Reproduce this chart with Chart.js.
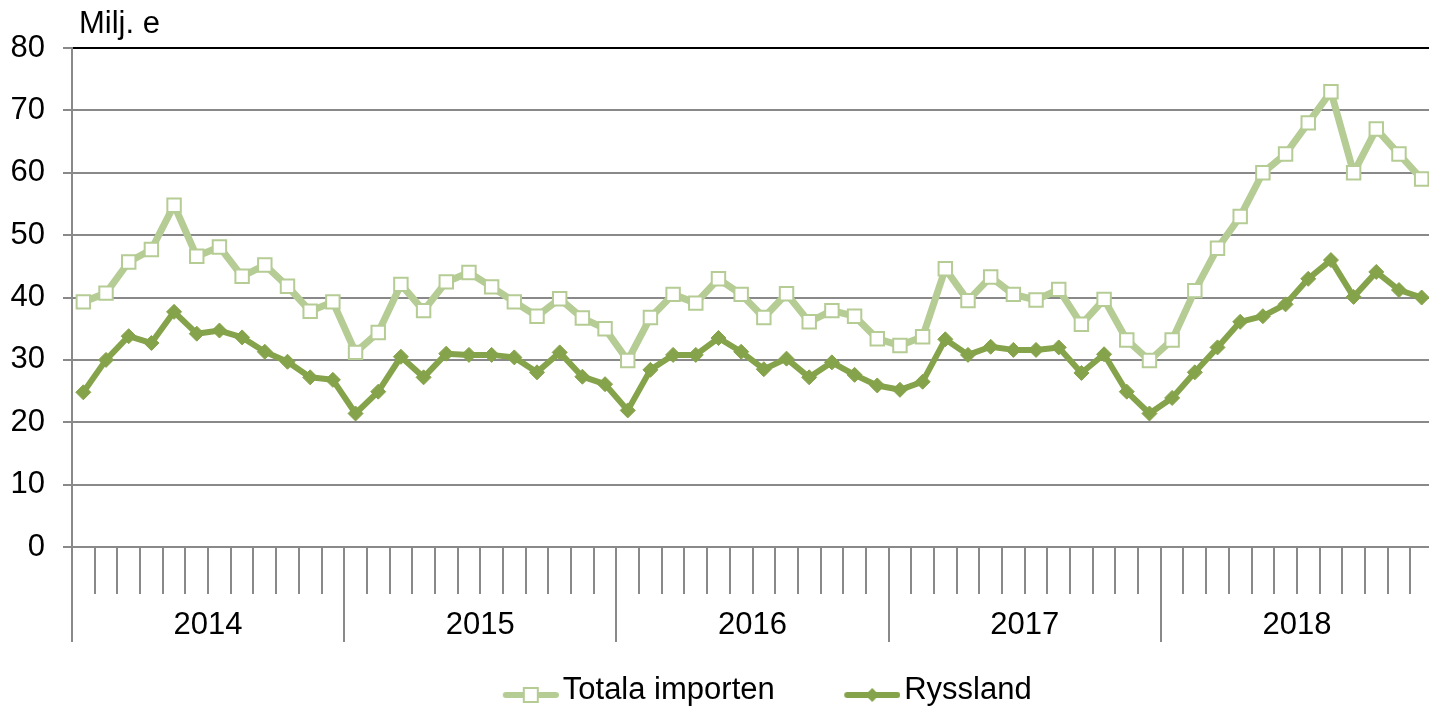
<!DOCTYPE html>
<html>
<head>
<meta charset="utf-8">
<title>Totala importen och Ryssland</title>
<script src="https://cdn.jsdelivr.net/npm/chart.js"></script>
<style>
  html, body { margin: 0; padding: 0; background: #fff; overflow: hidden; }
  canvas { display: block; }
</style>
</head>
<body>
<canvas id="importChart" width="1433" height="710"></canvas>
<script>
const years = ["2014", "2015", "2016", "2017", "2018"];
const monthNumbers = ["01", "02", "03", "04", "05", "06", "07", "08", "09", "10", "11", "12"];
const monthLabels = years.flatMap((y) => monthNumbers.map((m) => y + "-" + m));

// Milj. e per month
const totalaImporten = [
	39.3, 40.7, 45.7, 47.7, 54.8, 46.6, 48.1, 43.4, 45.2, 41.8, 37.8, 39.3,
	31.2, 34.4, 42.1, 37.9, 42.5, 44.0, 41.7, 39.3, 37.0, 39.8, 36.7, 35.0,
	29.9, 36.8, 40.5, 39.1, 43.0, 40.5, 36.8, 40.6, 36.1, 37.9, 37.0, 33.4,
	32.3, 33.7, 44.6, 39.5, 43.3, 40.5, 39.6, 41.3, 35.7, 39.7, 33.2, 29.9,
	33.2, 41.1, 47.9, 53.0, 60.0, 63.0, 68.0, 73.0, 60.0, 67.0, 63.0, 59.0,
];
const ryssland = [
	24.8, 30.0, 33.8, 32.7, 37.7, 34.2, 34.7, 33.6, 31.3, 29.7, 27.2, 26.8,
	21.4, 24.9, 30.5, 27.2, 31.0, 30.8, 30.8, 30.4, 28.0, 31.2, 27.3, 26.1,
	21.9, 28.4, 30.8, 30.8, 33.5, 31.3, 28.5, 30.2, 27.2, 29.6, 27.6, 25.9,
	25.2, 26.5, 33.3, 30.8, 32.1, 31.6, 31.6, 32.0, 27.9, 30.9, 24.9, 21.4,
	23.9, 28.0, 32.0, 36.1, 37.0, 38.9, 43.0, 46.0, 40.1, 44.1, 41.2, 40.0,
];
const yTicks = [0, 10, 20, 30, 40, 50, 60, 70, 80];

const lightGreen = "#b5cc94";
const darkGreen = "#85a34a";
const gridGrey = "#898989";
const fontFamily = "'Liberation Sans', Arial, sans-serif";
const fontSize = 31;

// legend icon: line with the series marker, drawn on a small canvas
function legendIcon(color, marker) {
	const c = document.createElement("canvas");
	c.width = 97;
	c.height = 30;
	const g = c.getContext("2d");
	const cy = 20;
	g.strokeStyle = color;
	g.lineWidth = 6;
	g.lineCap = "round";
	g.beginPath();
	g.moveTo(44, cy);
	g.lineTo(94, cy);
	g.stroke();
	if (marker === "square") {
		g.fillStyle = "#fff";
		g.lineWidth = 2;
		g.fillRect(62, cy - 7, 14, 14);
		g.strokeRect(62, cy - 7, 14, 14);
	} else {
		g.fillStyle = color;
		g.beginPath();
		g.moveTo(69, cy - 7);
		g.lineTo(76, cy);
		g.lineTo(69, cy + 7);
		g.lineTo(62, cy);
		g.closePath();
		g.fill();
	}
	return c;
}
const legendIcons = [legendIcon(lightGreen, "square"), legendIcon(darkGreen, "diamond")];

const unitLabel = {
	id: "unitLabel",
	afterDraw(chart) {
		const ctx = chart.ctx;
		ctx.save();
		ctx.font = fontSize + "px " + fontFamily;
		ctx.fillStyle = "#000";
		ctx.textBaseline = "alphabetic";
		ctx.fillText("Milj. e", chart.chartArea.left + 7, 33);
		ctx.restore();
	},
};

const ctx = document.getElementById("importChart").getContext("2d");
new Chart(ctx, {
	type: "line",
	data: {
		labels: monthLabels,
		datasets: [
			{
				label: "Totala importen",
				data: totalaImporten,
				borderColor: lightGreen,
				backgroundColor: "#fff",
				borderWidth: 7,
				borderJoinStyle: "round",
				pointStyle: "rect",
				pointRadius: 9.5,
				pointBackgroundColor: "#fff",
				pointBorderColor: lightGreen,
				pointBorderWidth: 2,
				tension: 0,
			},
			{
				label: "Ryssland",
				data: ryssland,
				borderColor: darkGreen,
				backgroundColor: darkGreen,
				borderWidth: 6,
				borderJoinStyle: "round",
				pointStyle: "rectRot",
				pointRadius: 7.5,
				pointBackgroundColor: darkGreen,
				pointBorderColor: darkGreen,
				pointBorderWidth: 1,
				tension: 0,
			},
		],
	},
	options: {
		responsive: false,
		animation: false,
		devicePixelRatio: 1,
		clip: false,
		layout: { autoPadding: false, padding: { top: 48, right: 0, bottom: -5.5, left: 0 } },
		scales: {
			x: {
				type: "category",
				position: "bottom",
				weight: 0,
				offset: true,
				grid: {
					offset: true,
					drawOnChartArea: false,
					tickLength: 47,
					color: gridGrey,
					lineWidth: 2,
				},
				border: { display: true, color: gridGrey, width: 2 },
				ticks: { display: false, autoSkip: false },
				afterFit: (scale) => { scale.height = 47; },
			},
			years: {
				type: "category",
				axis: "x",
				position: "bottom",
				weight: 1,
				labels: years,
				offset: true,
				grid: {
					offset: true,
					drawOnChartArea: false,
					tickLength: 48,
					color: gridGrey,
					lineWidth: 2,
				},
				border: { display: false },
				ticks: {
					color: "#000",
					padding: -35,
					autoSkip: false,
					maxRotation: 0,
					font: { family: fontFamily, size: fontSize },
				},
				afterFit: (scale) => { scale.height = 40.5; },
			},
			y: {
				min: 0,
				max: 80,
				afterBuildTicks: (scale) => { scale.ticks = yTicks.map((v) => ({ value: v })); },
				grid: {
					color: (c) => (c.tick && c.tick.value === 80 ? "#000" : gridGrey),
					tickColor: gridGrey,
					lineWidth: 2,
					tickLength: 9,
				},
				border: { display: true, color: gridGrey, width: 2 },
				ticks: {
					color: "#000",
					padding: 18,
					font: { family: fontFamily, size: fontSize },
				},
				afterFit: (scale) => { scale.width = 72; },
			},
		},
		plugins: {
			title: { display: false },
			tooltip: { enabled: false },
			legend: {
				position: "bottom",
				fullSize: false,
				labels: {
					color: "#000",
					font: { family: fontFamily, size: fontSize },
					usePointStyle: true,
					pointStyleWidth: 74,
					padding: 40,
					generateLabels(chart) {
						const items = Chart.defaults.plugins.legend.labels.generateLabels(chart);
						items.forEach((item, i) => { item.pointStyle = legendIcons[i]; });
						return items;
					},
				},
			},
		},
	},
	plugins: [unitLabel],
});
</script>
</body>
</html>
